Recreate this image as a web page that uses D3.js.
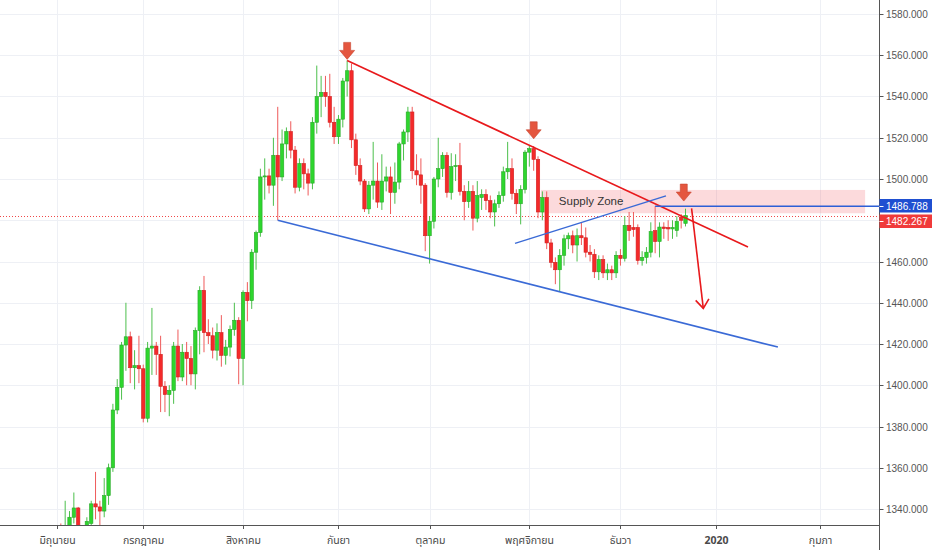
<!DOCTYPE html>
<html><head><meta charset="utf-8">
<script src="https://cdnjs.cloudflare.com/ajax/libs/d3/7.8.5/d3.min.js"></script>
<style>body{margin:0;background:#fff;}svg{display:block;}</style>
</head><body>
<svg id="chart" width="932" height="550"></svg>
<script>
// ---------- data (daily XAUUSD, bar index 0 = first June bar) ----------
const opens = [1305,1327,1325,1331,1336,1340.5,1327,1328,1333,1342.5,1341,1339,1346.5,1360,1388,1399,1419.5,1423.5,1408.5,1409.5,
1408,1384,1418,1419,1415,1399.5,1395.5,1397.5,1419,1404,1416,1413,1405.5,1426.5,1446,1425.5,1424,1417,1425.5,1414.5,1418.5,1427,1431.5,
1413,1445,1441,1464.5,1474,1501,1501.5,1497,1511.5,1501,1517,1523,1514,1496,1507.5,1502.5,1498,1527.5,1540,1542,1540,1527.5,
1520.5,1529,1547.5,1552.5,1519,1506.5,1499,1485.5,1497,1499,1488.8,1499,1501,1493.5,1498.5,1517,1522.8,1532.5,1504,1502,1497,
1472.5,1479.5,1500,1505,1511.5,1493.5,1506,1506.5,1494,1489,1494,1481,1491,1492.5,1489.5,1484,1488,1492,1503.5,1505,1493,1488,1495,
1513,1514.7,1509.5,1484,1491,1469,1459.6,1456,1463,1471,1472.5,1468,1472.5,1471.5,1464.5,1463.5,1455,1461,1454.5,1456,1454.5,
1463,1461.5,1477.5,1476.5,1476.5,1460.5,1462,1464.5,1475,1469.7,1476.7,1476.5,1475.8,1475,1481.5,1478.5];
const highs = [1329,1333,1344,1339,1348,1341,1331,1336,1344,1358,1344,1355,1362,1391,1403,1421,1440,1426,1417,1424,
1410,1421,1437.5,1421,1424,1402,1400,1421,1427,1420,1421,1419,1428,1448,1453,1432,1428,1430,1434,1422,1429,1440,1433,
1446,1450,1466,1475,1505,1510,1505,1520,1535,1524,1525,1528,1516,1510,1510,1505,1530,1555,1550,1550,1551,1535,
1531,1549,1557.5,1556,1522,1510,1500,1499,1518,1508,1512,1506,1506,1508,1518,1524,1535,1535,1512,1510,1498,
1482,1501,1520,1513,1513,1512.5,1512,1517.5,1497,1499,1497,1499,1495,1495,1492,1490,1494,1506,1518,1510,1495,1497,1514,
1516,1516,1511,1494,1494,1471,1462,1466,1473,1474,1475,1476,1479,1476.5,1468,1466,1463,1463,1459,1458,1465,
1466,1482,1484,1484,1478,1465,1467,1479,1486.8,1479,1479,1480,1480,1482,1483,1485.6];
const lows = [1304,1320,1322,1328,1333,1325,1322,1325,1330,1335,1332,1336,1342,1358,1386,1393,1407,1401,1398,1401,
1382,1382,1405,1405,1387,1387,1385,1391,1402,1402,1400,1400,1398,1415,1416,1420,1413,1412,1409,1410,1414,1424,1400.5,
1400,1431,1437,1456,1472,1490,1493,1487,1480,1499,1510,1510,1493,1494,1495,1492,1495,1522,1530,1535,1525,1517,
1517,1525,1540,1515,1502,1497,1484,1483,1490,1486,1485,1494,1483,1488,1495,1509,1518,1500,1497,1488,1465,
1459,1476,1496,1501,1491,1490,1499,1492,1480,1486,1475,1479,1485,1485,1481,1477,1486,1489,1500,1490,1483,1478,1493,
1506,1504,1481,1480,1466,1457,1449,1445.5,1458,1466,1464,1460,1468,1462,1460,1452,1451,1452,1451,1451,1452,
1458,1460,1470,1472,1458.5,1458,1459,1462,1464,1462,1471,1470,1471,1472,1476,1477];
const closes = [1327,1325,1331,1336,1340.5,1327,1327.5,1334,1342.5,1341,1339,1346.5,1360,1388,1399,1419.5,1423.5,1408.5,1409.5,1408,
1384,1418,1419,1415,1399.5,1395.5,1397.5,1419,1404,1416,1413,1405.5,1426.5,1446,1425.5,1424,1417,1425.5,1414.5,1418.5,1427,1431.5,1413,
1445,1441,1464.5,1474,1501,1501.5,1497,1511.5,1501,1517,1523,1514,1496,1507.5,1502.5,1498,1527.5,1540,1542,1540,1527.5,1520.5,
1529,1547.5,1552.5,1519,1506.5,1499,1485.5,1497,1499,1488.8,1499,1501,1493.5,1498.5,1517,1522.8,1532.5,1504,1502,1497,1472.5,
1479.5,1500,1505,1511.5,1493.5,1506,1506.5,1494,1489,1494,1481,1492,1492.5,1489.5,1484,1488,1492,1503.5,1505,1493,1488,1495,1513,
1514.7,1509.5,1484,1491,1469,1459.6,1456,1463,1471,1472.5,1468,1472.5,1471.5,1464.5,1463.5,1455,1461,1454.5,1456,1454.5,1463,
1461.5,1477.5,1475,1475.5,1460.5,1462,1464.5,1474.5,1469.7,1476.7,1476,1475.8,1476.5,1479.4,1480,1482.27];

// x-axis month labels and the bar index where each month starts
const monthLabels = ["มิถุนายน","กรกฎาคม","สิงหาคม","กันยา","ตุลาคม","พฤศจิกายน","ธันวา","2020","กุมภา"];
const monthIndex  = [0,20,43,65,86,109,130,152,176];
const priceTicks  = [1340,1360,1380,1400,1420,1440,1460,1480,1500,1520,1540,1560,1580];

// annotations (bar index, price)
const resistLine = [[67,1557.5],[159.4,1467]];
const supportLine = [[51,1480],[166.3,1418.5]];
const shortLine  = [[105.7,1468.8],[140.5,1491.8]];
const zoneLevel = 1486.788;
const lastPrice = 1482.267;
const supplyZone = {i0:111.7, i1:186.4, p0:1494.7, p1:1483.4, label:"Supply Zone"};
const downArrows = [[67,1558],[110,1519.5],[144.6,1489.3]];
const forecast = [[146.4,1485.8],[149.1,1437.3]];

// ---------- layout ----------
const W = 932, H = 550, plotR = 879.5, plotB = 525;
const svg = d3.select("#chart");
const x = d3.scaleLinear().domain([0,176]).range([56.5, 56.5+176*4.338]);
const y = d3.scaleLinear().domain([1340,1580]).range([509,14]);
const axisFont = "Liberation Sans, Arial, sans-serif";

svg.append("rect").attr("width",W).attr("height",H).attr("fill","#fff");
svg.append("defs").append("clipPath").attr("id","clip")
  .append("rect").attr("x",0).attr("y",0).attr("width",plotR).attr("height",plotB);

// grid
const grid = svg.append("g");
grid.selectAll(".hg").data(priceTicks.concat([1320])).join("line")
  .attr("x1",0).attr("x2",plotR).attr("y1",d=>Math.round(y(d))+0.5).attr("y2",d=>Math.round(y(d))+0.5)
  .attr("stroke","#eef0f5").attr("stroke-width",1);
grid.selectAll(".vg").data(monthIndex).join("line")
  .attr("y1",0).attr("y2",plotB).attr("x1",d=>Math.round(x(d))+0.5).attr("x2",d=>Math.round(x(d))+0.5)
  .attr("stroke","#eef0f5").attr("stroke-width",1);

const plot = svg.append("g").attr("clip-path","url(#clip)");

// supply zone
plot.append("rect")
  .attr("x",x(supplyZone.i0)).attr("width",x(supplyZone.i1)-x(supplyZone.i0))
  .attr("y",y(supplyZone.p0)).attr("height",y(supplyZone.p1)-y(supplyZone.p0))
  .attr("fill","rgba(242,70,80,0.2)");

// last price dotted line
const yl = Math.round(y(lastPrice))+0.5;
plot.append("line").attr("x1",0).attr("x2",plotR)
  .attr("y1",yl).attr("y2",yl)
  .attr("stroke","#f04848").attr("stroke-width",1).attr("stroke-dasharray","1,2");

// candles
const bars = d3.range(opens.length).map(i=>({i,o:opens[i],h:highs[i],l:lows[i],c:closes[i]}));
const up = d=>d.c>=d.o;
const cg = plot.append("g");
cg.selectAll(".wick").data(bars).join("line")
  .attr("x1",d=>x(d.i)).attr("x2",d=>x(d.i))
  .attr("y1",d=>y(d.h)).attr("y2",d=>y(d.l))
  .attr("stroke",d=>up(d)?"#4cbf4c":"#ef5a5a").attr("stroke-width",1);
const bw = 3.4;
cg.selectAll(".body").data(bars).join("rect")
  .attr("x",d=>x(d.i)-bw/2).attr("width",bw)
  .attr("y",d=>y(Math.max(d.o,d.c)))
  .attr("height",d=>Math.max(1,Math.abs(y(d.o)-y(d.c))))
  .attr("fill",d=>up(d)?"#2ed62e":"#f42a2a")
  .attr("stroke",d=>up(d)?"#28a828":"#d02020").attr("stroke-width",0.6);

// trend lines
const line = d3.line().x(d=>x(d[0])).y(d=>y(d[1]));
plot.append("path").attr("d",line(resistLine)).attr("stroke","#e8191c").attr("stroke-width",1.6).attr("fill","none");
plot.append("path").attr("d",line(supportLine)).attr("stroke","#3a6ad6").attr("stroke-width",1.6).attr("fill","none");
plot.append("path").attr("d",line(shortLine)).attr("stroke","#3a6ad6").attr("stroke-width",1.4).attr("fill","none");
plot.append("line").attr("x1",x(138)).attr("x2",plotR).attr("y1",y(zoneLevel)).attr("y2",y(zoneLevel))
  .attr("stroke","#2d5fd6").attr("stroke-width",1.6);

// supply zone label
plot.append("text").attr("x",x(115.8)).attr("y",y(supplyZone.p0)+15.5)
  .attr("font-family",axisFont).attr("font-size",11.5).attr("fill","#333")
  .text(supplyZone.label);

// forecast arrow
const fa = forecast.map(d=>[x(d[0]),y(d[1])]);
plot.append("line").attr("x1",fa[0][0]).attr("y1",fa[0][1]).attr("x2",fa[1][0]).attr("y2",fa[1][1])
  .attr("stroke","#e8191c").attr("stroke-width",1.6);
{
  const ang = Math.atan2(fa[1][1]-fa[0][1], fa[1][0]-fa[0][0]);
  const L = 11, sp = 0.65;
  const p1 = [fa[1][0]-L*Math.cos(ang-sp), fa[1][1]-L*Math.sin(ang-sp)];
  const p2 = [fa[1][0]-L*Math.cos(ang+sp), fa[1][1]-L*Math.sin(ang+sp)];
  plot.append("path").attr("d",`M${p1}L${fa[1]}L${p2}`).attr("stroke","#e8191c")
    .attr("stroke-width",1.6).attr("fill","none");
}

// block down arrows
downArrows.forEach(a=>{
  const tx = x(a[0]), ty = y(a[1]);
  const sw=3.5, hw=7.5, hh=9, th=17;
  const pts = [[tx-sw,ty-th],[tx+sw,ty-th],[tx+sw,ty-hh],[tx+hw,ty-hh],[tx,ty],[tx-hw,ty-hh],[tx-sw,ty-hh]];
  plot.append("polygon").attr("points",pts.map(p=>p.join(",")).join(" "))
    .attr("fill","#e4563f").attr("stroke","#c8442f").attr("stroke-width",0.6);
});

// axes lines
svg.append("line").attr("x1",plotR).attr("x2",plotR).attr("y1",0).attr("y2",H).attr("stroke","#555").attr("stroke-width",1);
svg.append("line").attr("x1",0).attr("x2",plotR).attr("y1",plotB+0.5).attr("y2",plotB+0.5).attr("stroke","#555").attr("stroke-width",1);

// right axis
const ya = svg.append("g");
priceTicks.forEach(v=>{
  const yy = Math.round(y(v))+0.5;
  ya.append("line").attr("x1",plotR).attr("x2",plotR+4).attr("y1",yy).attr("y2",yy).attr("stroke","#555");
  ya.append("text").attr("x",886).attr("y",yy+3.5)
    .attr("font-family",axisFont).attr("font-size",10).attr("fill","#555")
    .text(d3.format(".3f")(v));
});
// price labels
const yb = Math.round(y(zoneLevel));
ya.append("rect").attr("x",plotR).attr("y",yb-7).attr("width",W-plotR).attr("height",13.5).attr("fill","#1f4fd1");
ya.append("line").attr("x1",plotR).attr("x2",plotR+4).attr("y1",yb+0.5).attr("y2",yb+0.5).attr("stroke","#fff");
ya.append("text").attr("x",886).attr("y",yb+3.5).attr("font-family",axisFont)
  .attr("font-size",10).attr("fill","#fff").text(d3.format(".3f")(zoneLevel));
const yr = yb+15;
ya.append("rect").attr("x",plotR).attr("y",yr-6.5).attr("width",W-plotR).attr("height",13.5).attr("fill","#f03a3a");
ya.append("line").attr("x1",plotR).attr("x2",plotR+4).attr("y1",yr+0.5).attr("y2",yr+0.5).attr("stroke","#fff");
ya.append("text").attr("x",886).attr("y",yr+4).attr("font-family",axisFont)
  .attr("font-size",10).attr("fill","#fff").text(d3.format(".3f")(lastPrice));

// bottom axis
const xa = svg.append("g");
monthIndex.forEach((m,k)=>{
  const xx = Math.round(x(m))+0.5;
  xa.append("line").attr("x1",xx).attr("x2",xx).attr("y1",plotB).attr("y2",plotB+4).attr("stroke","#555");
  xa.append("text").attr("x",xx).attr("y",544).attr("text-anchor","middle")
    .attr("font-family","Noto Sans Thai, Tahoma, DejaVu Sans, sans-serif").attr("font-size",10.5)
    .attr("font-weight",monthLabels[k]==="2020"?"bold":"normal").attr("fill","#4a4a4a")
    .text(monthLabels[k]);
});
</script>
</body></html>
